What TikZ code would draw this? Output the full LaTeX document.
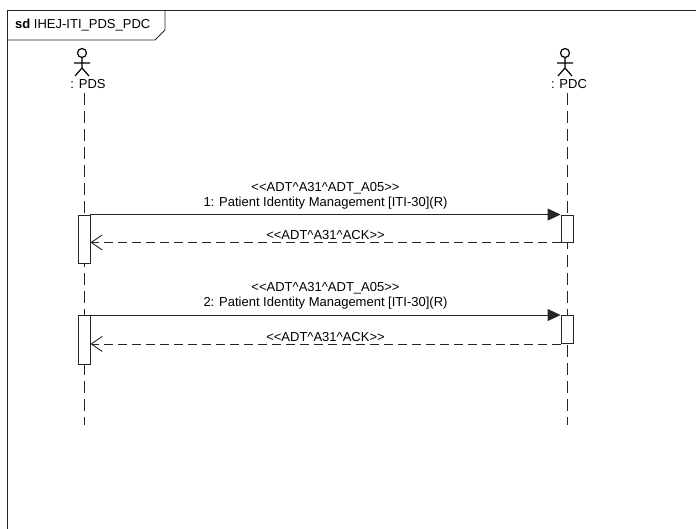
\documentclass[tikz,border=0pt]{standalone}
\usepackage{fontspec}
\setmainfont{Liberation Sans}
\usetikzlibrary{arrows.meta}
\newcommand{\stOpen}{<\kern0pt<\kern0pt}
\newcommand{\stClose}{>\kern0pt>\kern0pt}
\tikzset{
  x=1pt, y=-1pt,
  every node/.style={font=\fontsize{13}{15}\selectfont, inner sep=1pt},
  framepath/.style={draw=black!85, line width=1.2pt},
  lifeline/.style={draw=black!85, line width=0.9pt, dash pattern=on 12pt off 6pt},
  actbox/.style={draw=black!85, fill=white, line width=0.9pt, minimum width=12pt, inner sep=0pt},
  callmsg/.style={draw=black!85, line width=0.9pt, -{Triangle[length=13pt,width=12pt]}},
  replymsg/.style={draw=black!85, line width=0.9pt, dash pattern=on 9pt off 5pt, -{Straight Barb[length=11pt,width=15pt,line width=0.9pt]}},
  stickman/.pic={
    \draw[line width=1.2pt] (0,0) circle[radius=4.5pt];
    \draw[line width=1.2pt] (0,4.5) -- (0,15) (-8,10) -- (8,10) (-7,23) -- (0,15) -- (7,23);
  }
}
\begin{document}
\begin{tikzpicture}
\useasboundingbox[fill=white] (0,0) rectangle (696,529);
% frame
\draw[framepath] (7.5,540) -- (7.5,10.5) -- (700,10.5);
\draw[framepath, line width=0.9pt] (7.5,40) -- (155,40) -- (165,30) -- (165,10.5);
\node[anchor=west] (title) at (14,25) {\textbf{sd} IHEJ-ITI\_PDS\_PDC};
% actors
\pic at (82,53) {stickman};
\pic at (565,53) {stickman};
\node (pdslabel) at (88,84) {: PDS};
\node (pdclabel) at (569,84) {: PDC};
\coordinate (pdstop) at (84,93);
\coordinate (pdsbot) at (84,425);
\coordinate (pdctop) at (567,93);
\coordinate (pdcbot) at (567,425);
\draw[lifeline] (pdstop) -- (pdsbot);
\draw[lifeline] (pdctop) -- (pdcbot);
% activations
\node[actbox, minimum height=48pt] (a1) at (84,239) {};
\node[actbox, minimum height=27pt] (b1) at (567,228.5) {};
\node[actbox, minimum height=49pt] (a2) at (84,340) {};
\node[actbox, minimum height=28pt] (b2) at (567,329.5) {};
% message 1
\draw[callmsg] (a1.north east) -- node[above=4pt, align=center]{\stOpen ADT\textasciicircum A31\textasciicircum ADT\_A05\stClose\\1: Patient Identity Management [ITI-30](R)} (b1.north west);
\draw[replymsg] (b1.south west) -- node[above=1pt]{\stOpen ADT\textasciicircum A31\textasciicircum ACK\stClose} (a1.east |- b1.south west);
% message 2
\draw[callmsg] (a2.north east) -- node[above=4pt, align=center]{\stOpen ADT\textasciicircum A31\textasciicircum ADT\_A05\stClose\\2: Patient Identity Management [ITI-30](R)} (b2.north west);
\draw[replymsg] (b2.south west) -- node[above=1pt]{\stOpen ADT\textasciicircum A31\textasciicircum ACK\stClose} (a2.east |- b2.south west);
\end{tikzpicture}
\end{document}
